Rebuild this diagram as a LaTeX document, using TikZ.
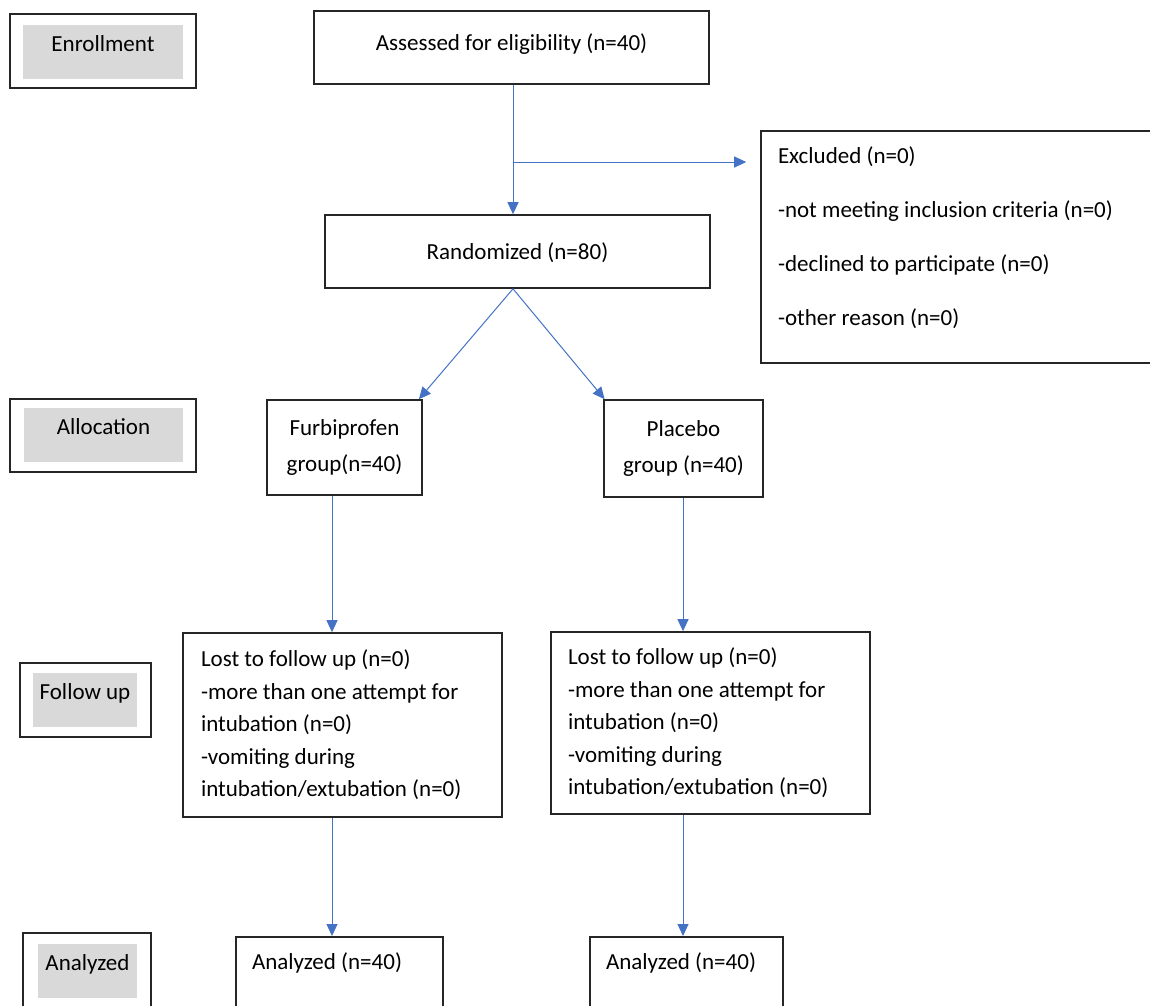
\documentclass[tikz,border=0pt]{standalone}
\usepackage{fontspec}
\setmainfont{Carlito}
\usetikzlibrary{arrows.meta}
\definecolor{arrowblue}{RGB}{68,114,196}
\definecolor{labelgray}{RGB}{217,217,217}
\begin{document}
\begin{tikzpicture}[x=1pt,y=-1pt,
	every node/.style={font=\fontsize{23}{28}\selectfont},
	oneline/.style={text height=15pt,text depth=0pt},
	box/.style={draw=black!85,line width=1.6pt,inner sep=0pt},
	stage/.style={draw=black!85,line width=1.6pt},
	tag/.style={fill=labelgray,oneline,text depth=17pt},
	arr/.style={draw=arrowblue,line width=1pt,-{Triangle[length=12pt,width=11pt]}}]
\clip (0,0) rectangle (1150,1005);
\node[stage,minimum width=186pt,minimum height=74pt] (enrolbox) at (103,51) {};
\node[tag,minimum width=160pt,minimum height=54pt] (enrol) at (103,52) {Enrollment};
\node[stage,minimum width=186pt,minimum height=73pt] (allocbox) at (103,435.5) {};
\node[tag,minimum width=159pt,minimum height=54pt] (alloc) at (103.5,435) {Allocation};
\node[stage,minimum width=131pt,minimum height=74pt] (follbox) at (85.5,700) {};
\node[tag,minimum width=104pt,minimum height=54pt] (foll) at (85,700) {Follow up};
\node[stage,minimum width=128pt,minimum height=75pt] (analbox) at (87,970.5) {};
\node[tag,minimum width=99pt,minimum height=54pt] (anal) at (87.5,971) {Analyzed};

\node[box,oneline,text depth=9pt,minimum width=395pt,minimum height=73pt] (assess) at (511.5,47.5) {Assessed for eligibility (n=40)};
\node[box,oneline,minimum width=385pt,minimum height=73pt] (rand) at (517.5,251.5) {Randomized (n=80)};
\node[box,inner xsep=17pt,inner ysep=16pt,font=\fontsize{23}{54}\selectfont] (excl) at (960.5,247)
	{\parbox[c][200pt][t]{365pt}{Excluded (n=0)\\-not meeting inclusion criteria (n=0)\\-declined to participate (n=0)\\-other reason (n=0)}};
\node[box,align=center,minimum width=155pt,minimum height=95pt,font=\fontsize{23}{36}\selectfont] (furb) at (344.5,447.5) {Furbiprofen\\group(n=40)};
\node[box,align=center,minimum width=159pt,minimum height=97pt,font=\fontsize{23}{36}\selectfont] (plac) at (683.5,448.5) {Placebo\\group (n=40)};
\node[box,align=flush left,text width=283pt,inner xsep=18pt,minimum height=184pt,font=\fontsize{23}{32.5}\selectfont] (fol1) at (342.5,725)
	{Lost to follow up (n=0)\\-more than one attempt for\\intubation (n=0)\\-vomiting during\\intubation/extubation (n=0)};
\node[box,align=flush left,text width=285pt,inner xsep=17pt,minimum height=182pt,font=\fontsize{23}{32.5}\selectfont] (fol2) at (710.5,723)
	{Lost to follow up (n=0)\\-more than one attempt for\\intubation (n=0)\\-vomiting during\\intubation/extubation (n=0)};
\node[box,oneline,anchor=north,align=flush left,text width=175pt,inner xsep=16pt,inner ysep=17.5pt,text depth=80pt] (ana1) at (339.5,936) {Analyzed (n=40)};
\node[box,oneline,anchor=north,align=flush left,text width=161pt,inner xsep=16pt,inner ysep=17.5pt,text depth=80pt] (ana2) at (686.5,936) {Analyzed (n=40)};

\coordinate (split) at (513,162);
\coordinate (lcol) at (332,0);
\coordinate (rcol) at (683,0);
\draw[arr] (assess.south -| split) -- (rand.north -| split);
\draw[arr,shorten >=14pt] (split) -- (split -| excl.west);
\draw[arr] (rand.south -| split) -- (furb.33);
\draw[arr] (rand.south -| split) -- (plac.148);
\draw[arr] (furb.south -| lcol) -- (fol1.north -| lcol);
\draw[arr] (plac.south -| rcol) -- (fol2.north -| rcol);
\draw[arr] (fol1.south -| lcol) -- (ana1.north -| lcol);
\draw[arr] (fol2.south -| rcol) -- (ana2.north -| rcol);
\end{tikzpicture}
\end{document}
